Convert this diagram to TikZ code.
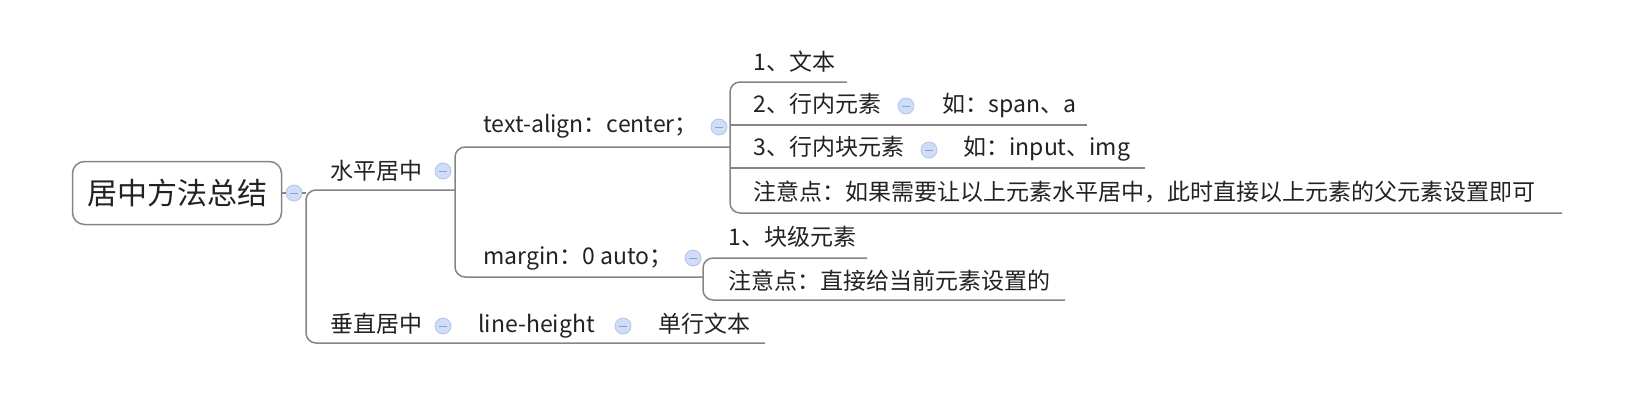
\documentclass[tikz,border=0pt]{standalone}
\usepackage{fontspec}
\setmainfont{Noto Sans CJK SC}
\usepackage{tikz}
\usetikzlibrary{positioning}

\definecolor{branchgray}{HTML}{858585}
\definecolor{textgray}{HTML}{222222}
\definecolor{foldfill}{HTML}{CFDDF8}
\definecolor{folddraw}{HTML}{B0C4EC}
\definecolor{foldminus}{HTML}{8C9FC8}

\begin{document}
\begin{tikzpicture}[x=0.5pt,y=-0.5pt,
    branch/.style={draw=branchgray,line width=0.75pt,rounded corners=5pt},
    topic/.style={anchor=west,inner sep=0pt,text=textgray,
      font=\fontsize{11.5}{14}\selectfont,text height=0.88em,text depth=0.12em},
    central/.style={draw=branchgray,line width=0.75pt,rounded corners=6pt,
      minimum width=104.5pt,minimum height=31.5pt,inner sep=0pt,text=textgray,
      font=\fontsize{15}{18}\selectfont},
    fold/.style={circle,draw=folddraw,fill=foldfill,line width=0.4pt,
      minimum size=8pt,inner sep=0pt,
      path picture={\draw[foldminus,line width=0.5pt]
        ([xshift=-2pt]path picture bounding box.center) --
        ([xshift=2pt]path picture bounding box.center);}}]
  \useasboundingbox (0,0) rectangle (1626,402);

  %% central topic
  \node[central] (root) at (177,193) {居中方法总结};
  \node[fold] (froot) at (294,193) {};

  %% main topics
  \node[topic] (hcenter) at (330,172) {水平居中};
  \node[fold] (fhcenter) at (443,171) {};
  \node[topic] (vcenter) at (330,325) {垂直居中};
  \node[fold] (fvcenter) at (443,326) {};

  % text-align
  \node[topic] (talign) at (483,125) {text-align：center；};
  \node[fold] (ftalign) at (719,127) {};
  \node[topic] (t1) at (753,63) {1、文本};
  \node[topic] (t2) at (753,105) {2、行内元素};
  \node[fold] (ft2) at (906,106) {};
  \node[topic] (t2e) at (942,105) {如：span、a};
  \node[topic] (t3) at (753,148) {3、行内块元素};
  \node[fold] (ft3) at (929,150) {};
  \node[topic] (t3e) at (963,148) {如：input、img};
  \node[topic] (tnote) at (753,193) {注意点：如果需要让以上元素水平居中，此时直接以上元素的父元素设置即可};

  % margin
  \node[topic] (margin) at (483,257) {margin：0 auto；};
  \node[fold] (fmargin) at (693,258) {};
  \node[topic] (m1) at (728,238) {1、块级元素};
  \node[topic] (mnote) at (728,282) {注意点：直接给当前元素设置的};

  % line-height
  \node[topic] (lheight) at (478,325) {line-height};
  \node[fold] (flheight) at (623,326) {};
  \node[topic] (single) at (658,325) {单行文本};

  %% branch points
  \coordinate (rootj) at (306,193);
  \coordinate (htop) at (306,190);
  \coordinate (hend) at (455,190);
  \coordinate (vbot) at (306,343);
  \coordinate (vend) at (765,343);
  \coordinate (ttop) at (455,147);
  \coordinate (tend) at (730,147);
  \coordinate (mbot) at (455,277);
  \coordinate (mend) at (703,277);
  \coordinate (t1j) at (730,82);
  \coordinate (t1end) at (847,82);
  \coordinate (t2j) at (730,125);
  \coordinate (t2end) at (1087,125);
  \coordinate (t3j) at (730,168);
  \coordinate (t3end) at (1145,168);
  \coordinate (tnj) at (730,213);
  \coordinate (tnend) at (1562,213);
  \coordinate (m1j) at (703,258);
  \coordinate (m1end) at (867,258);
  \coordinate (mnj) at (703,300);
  \coordinate (mnend) at (1065,300);

  %% connectors
  \draw[branch] (root) -- (froot);
  \draw[branch] (froot) -- (rootj);
  \draw[branch] (hend) -- (htop) -- (vbot) -- (vend);
  \draw[branch] (tend) -- (ttop) -- (mbot) -- (mend);
  \draw[branch] (t1end) -- (t1j) -- (tnj) -- (tnend);
  \draw[branch] (t2j) -- (t2end);
  \draw[branch] (t3j) -- (t3end);
  \draw[branch] (m1end) -- (m1j) -- (mnj) -- (mnend);
\end{tikzpicture}
\end{document}
